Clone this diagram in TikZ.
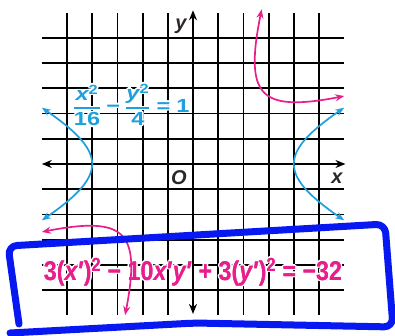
\documentclass[tikz,border=0pt]{standalone}
\usepackage{fontspec}
\setmainfont{Liberation Sans}
\usepackage{amsmath}
\usepackage{graphicx}
\usetikzlibrary{arrows.meta}
\definecolor{pinkc}{RGB}{232,30,140}
\definecolor{bluec}{RGB}{30,160,222}
\definecolor{markblue}{RGB}{8,24,240}
\definecolor{labelc}{RGB}{45,38,40}
\tikzset{
  gridline/.style={line width=1.8pt, black},
  axisline/.style={line width=1.8pt, black, {Stealth[length=10pt,width=8pt]}-{Stealth[length=10pt,width=8pt]}},
  curveb/.style={line width=1.7pt, bluec, {Stealth[length=9pt,width=7pt]}-{Stealth[length=9pt,width=7pt]}},
  curvep/.style={line width=1.7pt, pinkc, {Stealth[length=9pt,width=7pt]}-{Stealth[length=9pt,width=7pt]}},
  axislabel/.style={font=\fontsize{20}{20}\selectfont\bfseries\itshape, text=labelc, inner sep=0pt},
  pinktext/.style={font=\fontsize{27}{27}\selectfont\bfseries, text=pinkc, inner sep=0pt},
  bluetext/.style={font=\fontsize{19}{19}\selectfont\bfseries, text=bluec, inner sep=0pt},
  markline/.style={markblue, line width=7pt, line cap=round, line join=round, rounded corners=9pt},
}
\newcommand\halonode[4]{%
  \foreach \dx/\dy in {1.6/0,-1.6/0,0/1.6,0/-1.6,1.2/1.2,-1.2/1.2,1.2/-1.2,-1.2/-1.2}{%
    \node[#3,text=white,xshift=\dx pt,yshift=\dy pt] at (#2) {#4};}
  \node[#3] (#1) at (#2) {#4};}
\begin{document}
\begin{tikzpicture}[x=1pt,y=1pt]
\useasboundingbox (0,0) rectangle (395,335);
\begin{scope}[shift={(193pt,171pt)}, x=25.2pt, y=25.2pt]
  \foreach \k in {-5,-4,-3,-2,-1,1,2,3,4,5}{%
    \draw[gridline] (-6,\k) -- (6,\k);
    \draw[gridline] (\k,-6) -- (\k,6);}
  \coordinate (xl) at (-6,0);
  \coordinate (xr) at (6.05,0);
  \coordinate (yb) at (0,-5.95);
  \coordinate (yt) at (0,6.1);
\end{scope}
\halonode{eqp}{193,63}{pinktext}{\resizebox{298pt}{\height}{3(\textit{x}′)\textsuperscript{2} − 10\textit{x}′\textit{y}′ + 3(\textit{y}′)\textsuperscript{2} = −32}}
\halonode{eqb}{131,230}{bluetext}{\resizebox{117pt}{\height}{$\genfrac{}{}{1.3pt}{0}{\text{\itshape x}^{\text{2}}}{\text{16}}\mathbin{\text{−}}\genfrac{}{}{1.3pt}{0}{\text{\itshape y}^{\text{2}}}{\text{4}}\mathrel{\text{=}}\text{1}$}}
\draw[axisline] (xl) -- (xr);
\draw[axisline] (yb) -- (yt);
\begin{scope}[shift={(193pt,171pt)}, x=25.2pt, y=25.2pt]
  \draw[curveb] plot[domain=-0.962:0.962, samples=40, variable=\t] ({4*cosh(\t)},{2*sinh(\t)});
  \draw[curveb] plot[domain=-0.962:0.962, samples=40, variable=\t] ({-4*cosh(\t)},{2*sinh(\t)});
  \draw[curvep] plot[domain=-0.995:1.02, samples=50, variable=\t] ({(4*cosh(\t)-2*sinh(\t))/sqrt(2)},{(4*cosh(\t)+2*sinh(\t))/sqrt(2)});
  \draw[curvep] plot[domain=-0.995:0.995, samples=50, variable=\t] ({-(4*cosh(\t)-2*sinh(\t))/sqrt(2)},{-(4*cosh(\t)+2*sinh(\t))/sqrt(2)});
\end{scope}
\node[pinktext] at (eqp) {\resizebox{298pt}{\height}{3(\textit{x}′)\textsuperscript{2} − 10\textit{x}′\textit{y}′ + 3(\textit{y}′)\textsuperscript{2} = −32}};
\node[axislabel] (ylab) at (181,309) {y};
\node[axislabel] (xlab) at (337,157) {x};
\node[axislabel] (olab) at (179,157) {O};
\draw[markline] (19,11) -- (8,89) -- (385,111) -- (393,8) -- (195,12) -- (10,2);
\end{tikzpicture}
\end{document}
